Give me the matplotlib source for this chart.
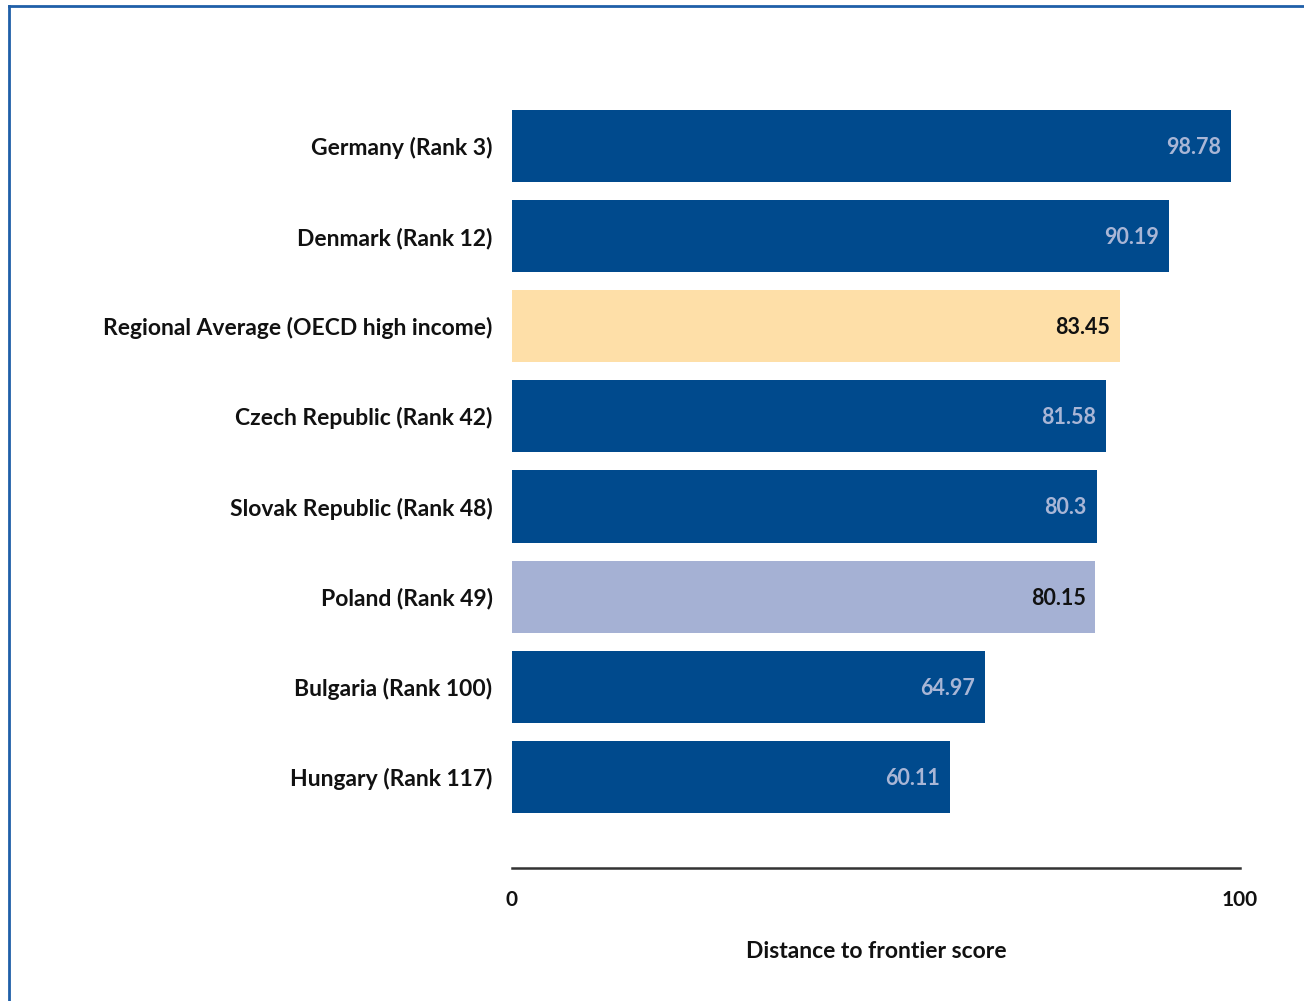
import matplotlib.pyplot as plt
from matplotlib.lines import Line2D

plt.rcParams["font.family"] = ["Lato", "DejaVu Sans"]

# ── data ──────────────────────────────────────────────────────────────
labels = [
    "Germany (Rank 3)",
    "Denmark (Rank 12)",
    "Regional Average (OECD high income)",
    "Czech Republic (Rank 42)",
    "Slovak Republic (Rank 48)",
    "Poland (Rank 49)",
    "Bulgaria (Rank 100)",
    "Hungary (Rank 117)",
]
scores = [98.78, 90.19, 83.45, 81.58, 80.3, 80.15, 64.97, 60.11]
score_text = ["98.78", "90.19", "83.45", "81.58", "80.3", "80.15", "64.97", "60.11"]
kinds = ["country", "country", "average", "country", "country", "focus", "country", "country"]

DARK = "#004A8D"
AVG = "#FEDFA8"
FOCUS = "#A5B1D4"
bar_colors = {"country": DARK, "average": AVG, "focus": FOCUS}
text_colors = {"country": "#A9B6D6", "average": "#111111", "focus": "#111111"}

W, H = 1304, 1001
fig = plt.figure(figsize=(W / 100, H / 100), dpi=100)
ax = fig.add_axes([512 / W, (H - 868) / H, 728 / W, 768 / H])

y = list(range(len(labels)))
ax.barh(y, scores, height=0.8, color=[bar_colors[k] for k in kinds], zorder=2)

for yi, s, t, k in zip(y, scores, score_text, kinds):
    ax.annotate(t, xy=(s, yi), xytext=(-7, -1), textcoords="offset points",
                ha="right", va="center", fontsize=15.5, fontweight="bold",
                color=text_colors[k])

ax.set_ylim(len(labels) - 1 + 1.01, -0.51)
ax.set_xlim(0, 100)
ax.set_yticks(y)
ax.set_yticklabels(labels, fontsize=16.5, fontweight="bold", color="#111111")
ax.set_xticks([0, 100])
ax.set_xticklabels(["0", "100"], fontsize=15, fontweight="bold", color="#111111")
ax.tick_params(axis="y", length=0, pad=14)
ax.tick_params(axis="x", length=0, pad=16)
ax.set_xlabel("Distance to frontier score", fontsize=16.5, fontweight="bold",
              color="#111111", labelpad=22)

for side in ["top", "right", "left"]:
    ax.spines[side].set_visible(False)
ax.spines["bottom"].set_color("#333333")
ax.spines["bottom"].set_linewidth(1.8)

# blue page frame (top and left edge)
fig.add_artist(Line2D([9 / W, 1], [1 - 6 / H, 1 - 6 / H], color="#1F5FA8", lw=2))
fig.add_artist(Line2D([9 / W, 9 / W], [0, 1 - 6 / H], color="#1F5FA8", lw=2))

fig.savefig("out.png", dpi=100)
